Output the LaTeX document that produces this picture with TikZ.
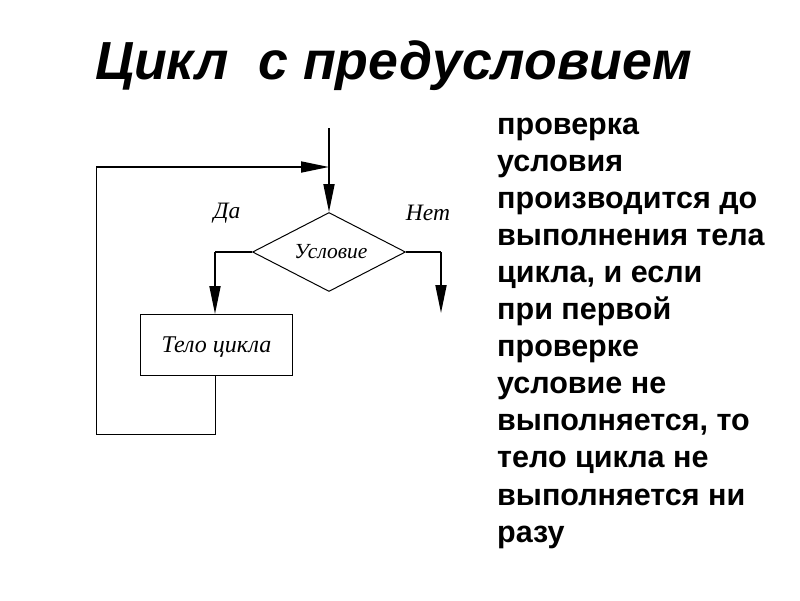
\documentclass[tikz,border=0pt]{standalone}
\usepackage{fontspec}
\setmainfont{Liberation Sans}
\newfontfamily\serif{Liberation Serif}
\usetikzlibrary{arrows.meta,shapes.geometric}
\begin{document}
\begin{tikzpicture}[x=1pt,y=-1pt,
  thick line/.style={line width=1.8pt},
  thin line/.style={line width=1pt},
  arr/.style={-{Triangle[length=28pt,width=11pt]}},
  lbl/.style={font=\serif\itshape\fontsize{23.5}{26}\selectfont, inner sep=0pt},
  bodytext/.style={anchor=base west, inner sep=0pt, font=\bfseries\fontsize{30.5}{37}\selectfont}]
\useasboundingbox (0,0) rectangle (800,600);
\fill[white] (0,0) rectangle (800,600);
\node[font=\bfseries\itshape\fontsize{53.6}{60}\selectfont, inner sep=0pt, anchor=base] (title) at (393.5,79) {Цикл\ \ с предусловием};
\coordinate (in) at (329,128);
\coordinate (join) at (329,167);
\node[draw, thin line, diamond, aspect=1.94, minimum width=153pt, minimum height=79pt, inner sep=0pt] (cond) at (329,252) {};
\node[lbl, font=\serif\itshape\fontsize{21.5}{24}\selectfont] (condtext) at (331,252) {Условие};
\node[draw, thin line, minimum width=152pt, minimum height=61pt, inner sep=0pt, text depth=0pt, anchor=north west, font=\serif\itshape\fontsize{24}{26}\selectfont] (body) at (140,314) {Тело цикла};
\coordinate (yesturn) at (215,252);
\coordinate (noturn) at (441,252);
\coordinate (noend) at (441,313);
\coordinate (bl) at (96,434);
\coordinate (br) at (215,434);
\coordinate (tl) at (96,167);
\draw[thick line] (in) -- (join);
\draw[thick line, arr] (join) -- (cond.north);
\draw[thick line] (cond.west) -- (yesturn);
\draw[thick line, arr] (yesturn) -- (body.north -| yesturn);
\draw[thick line] (cond.east) -- (noturn);
\draw[thick line, arr] (noturn) -- (noend);
\draw[thin line] (body.south -| br) -- (br) -- (bl) -- (tl);
\draw[thick line, arr] (tl) -- (join);
\node[lbl] (da) at (227,213) {Да};
\node[lbl] (net) at (428,213) {Нет};
\foreach \t [count=\i from 0] in {проверка, условия, производится до, выполнения тела, {цикла, и если}, при первой, проверке, условие не, {выполняется, то}, тело цикла не, выполняется ни, разу}
  \node[bodytext] (line\i) at (497,134+37.1*\i) {\t};
\end{tikzpicture}
\end{document}
